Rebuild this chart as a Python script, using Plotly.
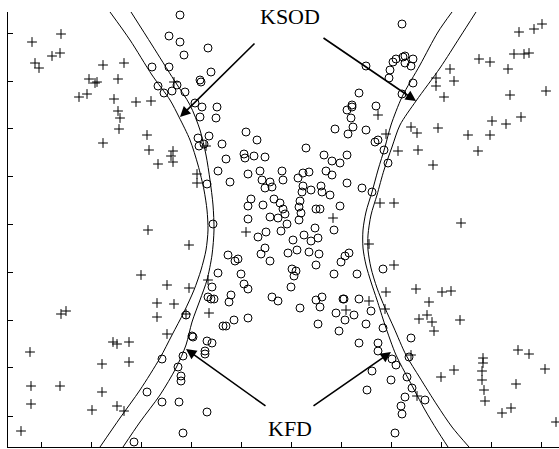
import plotly.graph_objects as go

# Values (horizontal position, vertical position; vertical grows downward)
circle_x = [180,169,180,184,208,152,169,211,200,201,158,164,172,177,185,195,202,217,200,216,
            246,257,209,198,199,204,222,244,245,254,265,226,218,230,248,260,262,270,265,272,
            282,283,207,251,248,263,274,280,283,285,270,278,248,213,287,266,258,281,293,265,
            261,270,288,297,228,235,238,218,241,244,248,212,292,296,294,291,
            402,366,393,396,403,405,413,405,411,390,389,413,402,359,352,347,352,376,351,353,
            335,348,366,378,375,306,324,332,340,347,384,388,298,303,309,326,332,347,303,302,
            311,321,322,330,362,372,300,299,301,299,316,320,340,315,304,311,318,334,309,319,
            345,349,341,316,334,357,383,
            208,211,214,231,229,272,278,248,223,226,234,186,192,193,207,212,205,205,162,183,
            178,181,181,147,162,179,207,183,134,
            316,322,320,343,344,359,300,336,345,354,371,318,339,366,383,359,378,378,392,396,
            411,409,372,407,391,412,367,405,425,401,402,395]
circle_y = [15,36,42,55,48,67,67,72,80,82,86,93,91,85,92,103,107,107,117,118,
            132,140,136,138,146,144,144,154,158,156,157,159,171,182,174,171,180,182,188,187,
            171,180,184,199,206,205,199,203,209,214,217,218,219,224,224,232,237,231,240,248,
            254,261,253,250,255,261,259,273,274,284,289,287,269,271,276,287,
            24,66,62,59,57,56,59,63,66,70,78,83,94,93,105,110,107,106,118,127,
            129,134,130,140,142,148,155,161,163,155,150,163,178,173,172,171,175,183,186,192,
            190,186,192,195,188,192,201,207,213,220,209,209,206,228,235,241,238,230,252,254,
            256,253,262,265,274,274,269,
            297,299,299,295,302,297,301,318,326,326,320,315,336,337,341,343,351,354,359,356,
            367,376,381,392,402,402,412,433,442,
            300,297,307,299,299,299,308,313,320,315,311,324,331,324,328,343,343,351,359,365,
            338,357,371,377,380,388,390,397,400,406,414,433]

plus_x = [32,61,35,39,52,60,103,124,89,95,97,79,87,118,114,118,120,119,136,151,
          103,147,149,158,173,171,173,174,197,197,206,
          148,189,246,141,167,189,208,157,174,157,209,186,167,61,66,113,117,129,30,
          102,129,31,60,102,31,92,117,124,21,
          519,534,542,479,490,514,524,529,508,450,436,436,454,444,510,546,378,492,506,521,
          411,417,468,490,438,386,398,418,478,433,380,394,333,461,
          369,394,416,442,451,429,427,419,432,434,460,386,369,385,346,411,518,529,483,483,
          482,482,484,485,454,441,516,545,417,511,502,556]
plus_y = [42,34,63,68,56,53,65,63,79,83,82,97,94,79,99,111,118,129,102,101,
          143,135,150,164,151,156,162,82,174,183,146,
          230,245,232,275,285,288,280,303,304,317,313,314,334,314,311,342,344,342,352,
          364,362,386,386,392,404,410,406,411,431,
          32,29,24,59,62,54,54,53,69,69,78,86,81,97,95,91,115,121,124,117,
          127,133,135,135,128,134,151,150,151,165,203,203,218,223,
          244,265,289,292,291,302,315,319,322,331,320,292,301,309,310,355,350,354,358,363,
          371,380,390,401,370,377,384,369,396,408,413,422]

# Decision boundaries
ksod_left_x = [110,130,152,170,179,190,198,204,207,208,206,201,194,184,172,160,140,120,100]
ksod_left_y = [12,40,75,100,117,140,165,190,210,230,250,270,290,312,335,358,390,418,447]
kfd_left_x = [131,152,174,190,200,206,210,213,214,212,207,200,192,186,176,160,140,123]
kfd_left_y = [12,45,80,105,130,155,180,205,230,255,280,300,322,345,368,395,422,447]
ksod_right_x = [476,460,440,416,400,392,384,377,371,368,368,371,377,385,394,406,420,437,452,469]
ksod_right_y = [12,37,68,101,125,147,170,195,215,235,250,268,288,308,328,355,378,405,427,447]
kfd_right_x = [452,438,420,402,391,385,378,372,366,363,363,366,371,377,385,396,409,425,437,448]
kfd_right_y = [12,32,65,97,125,147,170,192,212,230,248,265,282,300,325,355,380,410,430,447]

labels = ["KSOD", "KFD"]
label_x = [290, 290]
label_y = [16, 428]

# arrows: (tail x, tail y, tip x, tip y)
arrow_tail_x = [256, 322, 267, 312]
arrow_tail_y = [42, 37, 407, 407]
arrow_tip_x = [180, 416, 186, 391]
arrow_tip_y = [117, 101, 349, 352]

x_ticks = [41, 91, 141, 191, 241, 291, 341, 391, 441, 491, 541]
y_ticks = [33, 81, 128, 176, 224, 272, 320, 367, 416]

fig = go.Figure()
line_style = dict(color="black", width=1, shape="spline", smoothing=0.8)
for cx, cy in [(ksod_left_x, ksod_left_y), (kfd_left_x, kfd_left_y),
               (ksod_right_x, ksod_right_y), (kfd_right_x, kfd_right_y)]:
    fig.add_trace(go.Scatter(x=cx, y=cy, mode="lines", line=line_style,
                             hoverinfo="skip", showlegend=False))

fig.add_trace(go.Scatter(x=circle_x, y=circle_y, mode="markers",
                         marker=dict(symbol="circle-open", size=8, color="black",
                                     line=dict(width=1, color="black")),
                         showlegend=False, cliponaxis=False))
fig.add_trace(go.Scatter(x=plus_x, y=plus_y, mode="markers",
                         marker=dict(symbol="cross-thin-open", size=7, color="black",
                                     line=dict(width=1, color="black")),
                         showlegend=False))

for t, lx, ly in zip(labels, label_x, label_y):
    fig.add_annotation(x=lx, y=ly, text=t, showarrow=False, xref="x", yref="y",
                       borderpad=0, yanchor="middle",
                       font=dict(family="Liberation Serif", size=22, color="black"))

for tx, ty, hx, hy in zip(arrow_tail_x, arrow_tail_y, arrow_tip_x, arrow_tip_y):
    fig.add_annotation(x=hx, y=hy, ax=tx, ay=ty, xref="x", yref="y", axref="x", ayref="y",
                       text="", showarrow=True, arrowhead=2, arrowsize=1.3,
                       arrowwidth=1.6, arrowcolor="black", standoff=0, startstandoff=0)

fig.update_layout(
    width=559, height=449,
    margin=dict(l=8, r=0, t=12, b=2),
    paper_bgcolor="white", plot_bgcolor="white",
    hovermode=False,
    xaxis=dict(range=[8, 559], showline=True, linecolor="black", linewidth=1,
               ticks="inside", ticklen=5, tickcolor="black", tickvals=x_ticks,
               showticklabels=False, showgrid=False, zeroline=False, mirror=False),
    yaxis=dict(range=[447, 12], showline=True, linecolor="black", linewidth=1,
               ticks="inside", ticklen=5, tickcolor="black", tickvals=y_ticks,
               showticklabels=False, showgrid=False, zeroline=False, mirror=False),
)

# Remove the default page margin so the 559x449 figure fills the window exactly.
fig.write_html("out.html",
               config={"displayModeBar": False, "staticPlot": True},
               post_script="document.body.style.margin='0';document.body.style.overflow='hidden';")
